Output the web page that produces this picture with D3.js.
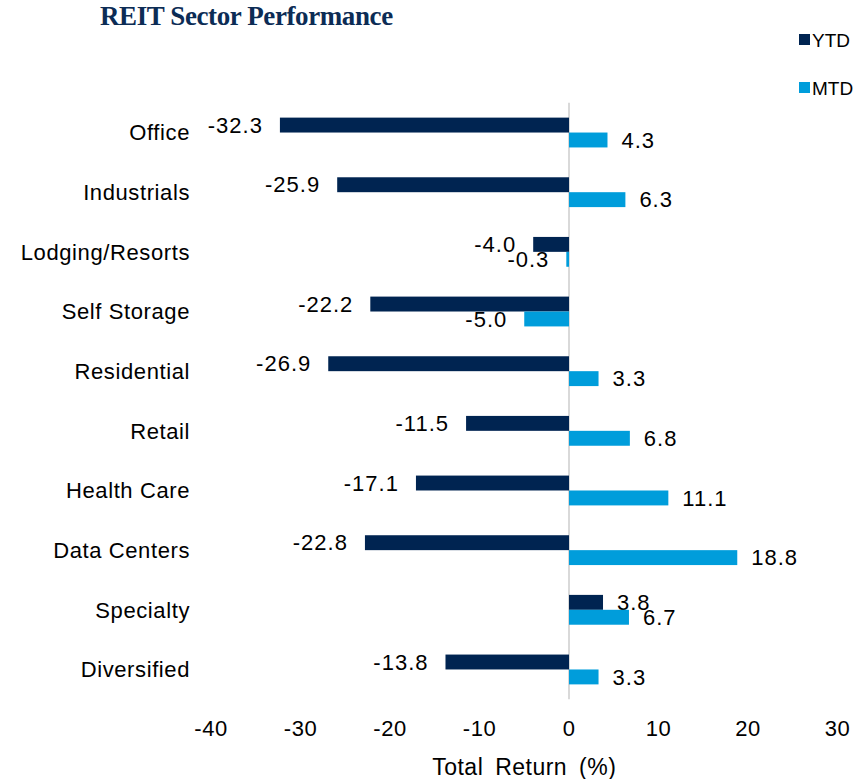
<!DOCTYPE html>
<html>
<head>
<meta charset="utf-8">
<script src="https://cdn.jsdelivr.net/npm/d3@7"></script>
<style>
  body { margin: 0; background: #fff; }
  text { font-family: "Liberation Sans", Arial, sans-serif; fill: #000; }
</style>
</head>
<body>
<div id="chart"></div>
<script>
const sectors = ['Office', 'Industrials', 'Lodging/Resorts', 'Self Storage', 'Residential',
                 'Retail', 'Health Care', 'Data Centers', 'Specialty', 'Diversified'];
const ytd = [-32.3, -25.9, -4.0, -22.2, -26.9, -11.5, -17.1, -22.8, 3.8, -13.8];
const mtd = [4.3, 6.3, -0.3, -5.0, 3.3, 6.8, 11.1, 18.8, 6.7, 3.3];
const xTicks = [-40, -30, -20, -10, 0, 10, 20, 30];
const seriesNames = ['YTD', 'MTD'];
const colors = { YTD: '#002451', MTD: '#009ddb' };

const width = 854, height = 779;
const svg = d3.select('#chart').append('svg')
    .attr('width', width)
    .attr('height', height);

// Scales
const x = d3.scaleLinear().domain([-40, 30]).range([211, 837.5]);
const y = d3.scaleBand().domain(sectors).range([102.7, 699.3])
    .paddingInner(0.5).paddingOuter(0.25);
const ySub = d3.scaleBand().domain(seriesNames).range([0, y.bandwidth()]);

// Title
svg.append('text')
    .attr('x', 100)
    .attr('y', 25)
    .style('font-family', '"Liberation Serif", "Times New Roman", serif')
    .style('font-weight', 'bold')
    .style('font-size', '27px')
    .style('letter-spacing', '-0.4px')
    .style('fill', '#0c2c55')
    .text('REIT Sector Performance');

// Legend
const legend = svg.append('g');
seriesNames.forEach((name, i) => {
    const ly = 40 + i * 48;
    legend.append('rect')
        .attr('x', 799).attr('y', ly - 6)
        .attr('width', 11).attr('height', 11)
        .attr('fill', colors[name]);
    legend.append('text')
        .attr('x', 812).attr('y', ly)
        .attr('dy', '0.35em')
        .style('font-size', '19px')
        .text(name);
});

// Zero line
svg.append('line')
    .attr('x1', x(0)).attr('x2', x(0))
    .attr('y1', y.range()[0]).attr('y2', y.range()[1])
    .attr('stroke', '#d9d9d9')
    .attr('stroke-width', 2);

// Bars
const rows = sectors.map((s, i) => ({ sector: s, YTD: ytd[i], MTD: mtd[i] }));
const groups = svg.append('g').selectAll('g')
    .data(rows).join('g')
    .attr('transform', d => `translate(0,${y(d.sector)})`);

seriesNames.forEach(name => {
    groups.append('rect')
        .attr('x', d => x(Math.min(0, d[name])))
        .attr('y', ySub(name))
        .attr('width', d => Math.abs(x(d[name]) - x(0)))
        .attr('height', ySub.bandwidth())
        .attr('fill', colors[name]);

    groups.append('text')
        .attr('x', d => d[name] < 0 ? x(d[name]) - 17 : x(d[name]) + 14)
        .attr('y', ySub(name) + ySub.bandwidth() / 2)
        .attr('dy', '0.35em')
        .attr('text-anchor', d => d[name] < 0 ? 'end' : 'start')
        .style('font-size', '22px')
        .style('letter-spacing', '1px')
        .text(d => d[name].toFixed(1));
});

// Category labels
svg.append('g').selectAll('text')
    .data(sectors).join('text')
    .attr('x', 190)
    .attr('y', d => y(d) + y.bandwidth() / 2)
    .attr('dy', '0.35em')
    .attr('text-anchor', 'end')
    .style('font-size', '22px')
    .style('letter-spacing', '0.6px')
    .text(d => d);

// X tick labels
svg.append('g').selectAll('text')
    .data(xTicks).join('text')
    .attr('x', d => x(d))
    .attr('y', 728)
    .attr('dy', '0.35em')
    .attr('text-anchor', 'middle')
    .style('font-size', '22px')
    .style('letter-spacing', '0.5px')
    .text(d => d);

// Axis title
svg.append('text')
    .attr('x', (x.range()[0] + x.range()[1]) / 2)
    .attr('y', 767)
    .attr('dy', '0.35em')
    .attr('text-anchor', 'middle')
    .style('font-size', '23px')
    .style('letter-spacing', '0.5px')
    .style('word-spacing', '5px')
    .text('Total Return (%)');
</script>
</body>
</html>
